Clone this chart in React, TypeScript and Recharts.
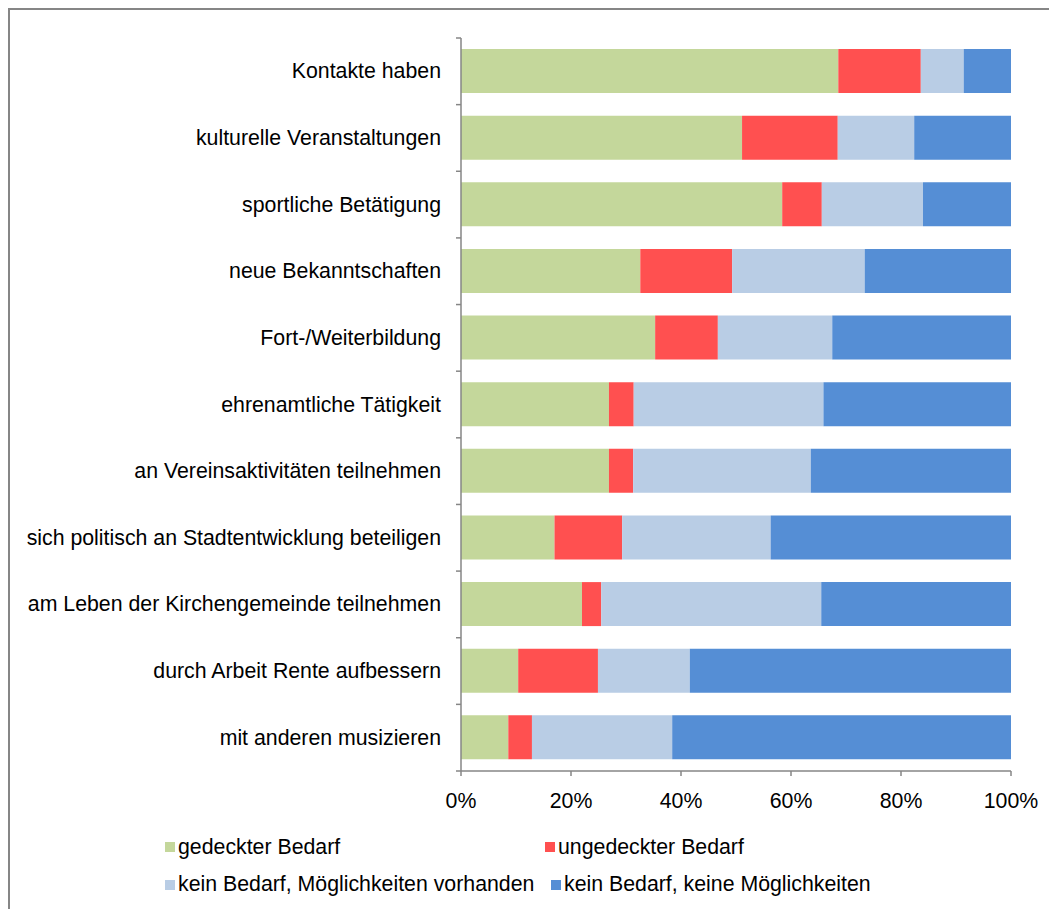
import React from 'react'
import { BarChart, Bar, XAxis, YAxis, Legend } from 'recharts'

const categories = [
    'Kontakte haben',
    'kulturelle Veranstaltungen',
    'sportliche Betätigung',
    'neue Bekanntschaften',
    'Fort-/Weiterbildung',
    'ehrenamtliche Tätigkeit',
    'an Vereinsaktivitäten teilnehmen',
    'sich politisch an Stadtentwicklung beteiligen',
    'am Leben der Kirchengemeinde teilnehmen',
    'durch Arbeit Rente aufbessern',
    'mit anderen musizieren',
]

const gedeckt = [68.6, 51.1, 58.4, 32.6, 35.3, 26.9, 26.9, 17.0, 22.0, 10.4, 8.6]
const ungedeckt = [15.0, 17.4, 7.2, 16.7, 11.4, 4.5, 4.4, 12.3, 3.5, 14.5, 4.3]
const keinBedarfMoegl = [7.8, 13.9, 18.4, 24.1, 20.8, 34.5, 32.3, 27.0, 40.0, 16.7, 25.5]
const keinBedarfKeine = [8.6, 17.6, 16.0, 26.6, 32.5, 34.1, 36.4, 43.7, 34.5, 58.4, 61.6]

const xTicks = [0, 20, 40, 60, 80, 100]

const series = [
    { key: 'gedeckt', name: 'gedeckter Bedarf', color: '#C4D79B' },
    { key: 'ungedeckt', name: 'ungedeckter Bedarf', color: '#FF5050' },
    { key: 'moegl', name: 'kein Bedarf, Möglichkeiten vorhanden', color: '#B9CDE5' },
    { key: 'keine', name: 'kein Bedarf, keine Möglichkeiten', color: '#558ED5' },
]

const data = categories.map((name, i) => ({
    name,
    gedeckt: gedeckt[i],
    ungedeckt: ungedeckt[i],
    moegl: keinBedarfMoegl[i],
    keine: keinBedarfKeine[i],
}))

const W = 1047
const H = 899
const TOP = 28
const AXIS_X = 451
const X_AXIS_H = 58
const LEGEND_H = 80
const BAND = (H - TOP - X_AXIS_H - LEGEND_H) / categories.length
const AXIS_COLOR = '#868686'
const FONT = '"Liberation Sans", Arial, sans-serif'
const FS = 21.3

function CategoryTick(props: any) {
    const { y, payload, index } = props
    const last = index === categories.length - 1
    return (
        <g>
            <line x1={AXIS_X - 5} x2={AXIS_X} y1={y - BAND / 2} y2={y - BAND / 2} stroke={AXIS_COLOR} strokeWidth={1.5} />
            {last && (
                <line x1={AXIS_X - 5} x2={AXIS_X} y1={y + BAND / 2} y2={y + BAND / 2} stroke={AXIS_COLOR} strokeWidth={1.5} />
            )}
            <text x={AXIS_X - 20} y={y} textAnchor="end" dominantBaseline="central" fontSize={FS} fill="#000">
                {payload.value}
            </text>
        </g>
    )
}

function LegendItem({ name, color, width }: { name: string; color: string; width?: number }) {
    return (
        <div style={{ display: 'flex', alignItems: 'center', width, whiteSpace: 'nowrap' }}>
            <span style={{ width: 10, height: 10, background: color, marginRight: 3, display: 'inline-block', flex: 'none' }} />
            <span>{name}</span>
        </div>
    )
}

function ChartLegend() {
    return (
        <div style={{ height: LEGEND_H, fontFamily: FONT, fontSize: FS, color: '#000' }}>
            <div style={{ display: 'flex', height: 36, alignItems: 'center' }}>
                <LegendItem name={series[0].name} color={series[0].color} width={380} />
                <LegendItem name={series[1].name} color={series[1].color} />
            </div>
            <div style={{ display: 'flex', height: 39, alignItems: 'center' }}>
                <LegendItem name={series[2].name} color={series[2].color} width={386} />
                <LegendItem name={series[3].name} color={series[3].color} />
            </div>
        </div>
    )
}

export default function App() {
    return (
        <div
            style={{
                width: W,
                height: H,
                borderTop: `2px solid ${AXIS_COLOR}`,
                borderLeft: `2px solid ${AXIS_COLOR}`,
                background: '#fff',
                fontFamily: FONT,
            }}
        >
            <BarChart
                width={W}
                height={H}
                data={data}
                layout="vertical"
                margin={{ top: TOP, right: 46, bottom: 0, left: 0 }}
                barSize={44}
            >
                <XAxis
                    type="number"
                    domain={[0, 100]}
                    ticks={xTicks}
                    tickFormatter={v => `${v}%`}
                    height={X_AXIS_H}
                    stroke={AXIS_COLOR}
                    strokeWidth={1.5}
                    tickSize={5}
                    tickMargin={17}
                    tick={{ fontSize: FS, fill: '#000', fontFamily: FONT }}
                    allowDataOverflow
                />
                <YAxis
                    type="category"
                    dataKey="name"
                    width={AXIS_X}
                    stroke={AXIS_COLOR}
                    strokeWidth={1.5}
                    tickLine={false}
                    interval={0}
                    tick={<CategoryTick />}
                />
                {series.map(s => (
                    <Bar
                        key={s.key}
                        dataKey={s.key}
                        name={s.name}
                        stackId="a"
                        fill={s.color}
                        isAnimationActive={false}
                    />
                ))}
                <Legend
                    verticalAlign="bottom"
                    content={() => <ChartLegend />}
                    wrapperStyle={{ left: 155, width: 880 }}
                />
            </BarChart>
        </div>
    )
}
